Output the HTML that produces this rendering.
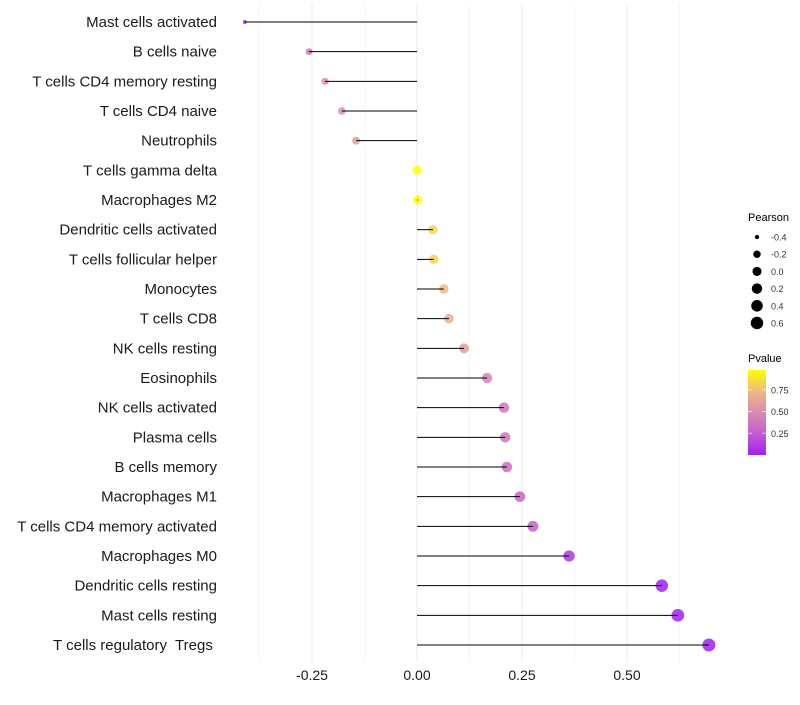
<!DOCTYPE html>
<html><head><meta charset="utf-8"><style>
body{margin:0;background:#fff;font-family:"Liberation Sans",sans-serif}
svg text{font-family:"Liberation Sans",sans-serif;white-space:pre}
</style></head><body>
<svg id="chart" width="800" height="700" viewBox="0 0 800 700" xmlns="http://www.w3.org/2000/svg">
<g id="grid"></g>
<g id="dots"></g>
<g id="marks"></g>
<g id="yaxis"></g>
<g id="xaxis"></g>
<g id="legend"></g>
</svg>
<script>
const categories=["Mast cells activated","B cells naive","T cells CD4 memory resting","T cells CD4 naive","Neutrophils","T cells gamma delta","Macrophages M2","Dendritic cells activated","T cells follicular helper","Monocytes","T cells CD8","NK cells resting","Eosinophils","NK cells activated","Plasma cells","B cells memory","Macrophages M1","T cells CD4 memory activated","Macrophages M0","Dendritic cells resting","Mast cells resting","T cells regulatory  Tregs "];
const pearson=[-0.41,-0.257,-0.219,-0.179,-0.145,0.0,0.002,0.038,0.040,0.064,0.076,0.112,0.167,0.207,0.21,0.214,0.245,0.276,0.362,0.583,0.621,0.695];
const pvalue=[0.05,0.4,0.5,0.55,0.6,1.0,0.99,0.85,0.83,0.75,0.7,0.6,0.45,0.38,0.38,0.35,0.3,0.25,0.1,0.01,0.004,0.001];
const xTicks=[-0.25,0,0.25,0.5];
const xTickLabels=["-0.25","0.00","0.25","0.50"];
const sizeLegend=[-0.4,-0.2,0.0,0.2,0.4,0.6];
const colorLegend=[0.25,0.5,0.75];

const NS="http://www.w3.org/2000/svg";
function mk(t,a,p){const e=document.createElementNS(NS,t);for(const k in a)e.setAttribute(k,a[k]);p.appendChild(e);return e;}
const x=v=>417+v*420;
const y=i=>22+i*(623/21);
const rad=v=>1.5+5*Math.sqrt(Math.max(0,(v+0.42)/1.12));
const stops=[[0,[160,32,240]],[0.25,[196,92,208]],[0.5,[217,139,176]],[0.75,[238,186,128]],[1,[255,255,0]]];
function col(p){for(let i=0;i<stops.length-1;i++){const[a,ca]=stops[i],[b,cb]=stops[i+1];if(p<=b){const t=(p-a)/(b-a);return"rgb("+ca.map((c,j)=>Math.round(c+(cb[j]-c)*t)).join(",")+")";}}return"rgb(255,255,0)";}

const grid=document.getElementById('grid');
for(let v=-0.375;v<=0.7;v+=0.125){const l=mk('line',{x1:x(v),x2:x(v),y1:5,y2:662,stroke:'#ebebeb','stroke-width':Math.abs((v/0.25)%1)<1e-6?1:0.5},grid);

}
const marks=document.getElementById('marks'),dots=document.getElementById('dots'),ya=document.getElementById('yaxis');
categories.forEach((c,i)=>{
const d=mk('circle',{cx:x(pearson[i]),cy:y(i),r:rad(pearson[i]),fill:col(pvalue[i]),'fill-opacity':0.85},dots);


const s=mk('line',{x1:x(0),x2:x(pearson[i]),y1:y(i),y2:y(i),stroke:'#000','stroke-width':1},marks);


const t=mk('text',{x:217,y:y(i)+5,'text-anchor':'end','font-size':15,fill:'#1a1a1a'},ya);t.textContent=c;


});
const xa=document.getElementById('xaxis');
xTicks.forEach((v,i)=>{const t=mk('text',{x:x(v),y:680,'text-anchor':'middle','font-size':14,fill:'#1a1a1a'},xa);t.textContent=xTickLabels[i];

});
const lg=document.getElementById('legend');
let t=mk('text',{x:748,y:221,'font-size':11,fill:'#000'},lg);t.textContent='Pearson';


sizeLegend.forEach((v,i)=>{const yy=237+i*17.2;
const c=mk('circle',{cx:757,cy:yy,r:rad(v),fill:'#000'},lg);


const tt=mk('text',{x:771,y:yy+3.5,'font-size':9,fill:'#333'},lg);tt.textContent=v.toFixed(1);

});
t=mk('text',{x:748,y:362,'font-size':11,fill:'#000'},lg);t.textContent='Pvalue';


const defs=mk('defs',{},lg);const gr=mk('linearGradient',{id:'pg',x1:0,y1:1,x2:0,y2:0},defs);
stops.forEach(s=>mk('stop',{offset:s[0],'stop-color':col(s[0])},gr));
const bar=mk('rect',{x:748,y:370,width:18,height:85,fill:'url(#pg)'},lg);


colorLegend.forEach(v=>{const yy=455-v*87;
mk('line',{x1:748,x2:752,y1:yy,y2:yy,stroke:'#fff','stroke-opacity':0.6},lg);mk('line',{x1:762,x2:766,y1:yy,y2:yy,stroke:'#fff','stroke-opacity':0.6},lg);
const tt=mk('text',{x:771,y:yy+3.5,'font-size':9,fill:'#333'},lg);tt.textContent=v.toFixed(2);

});
</script>
</body></html>
